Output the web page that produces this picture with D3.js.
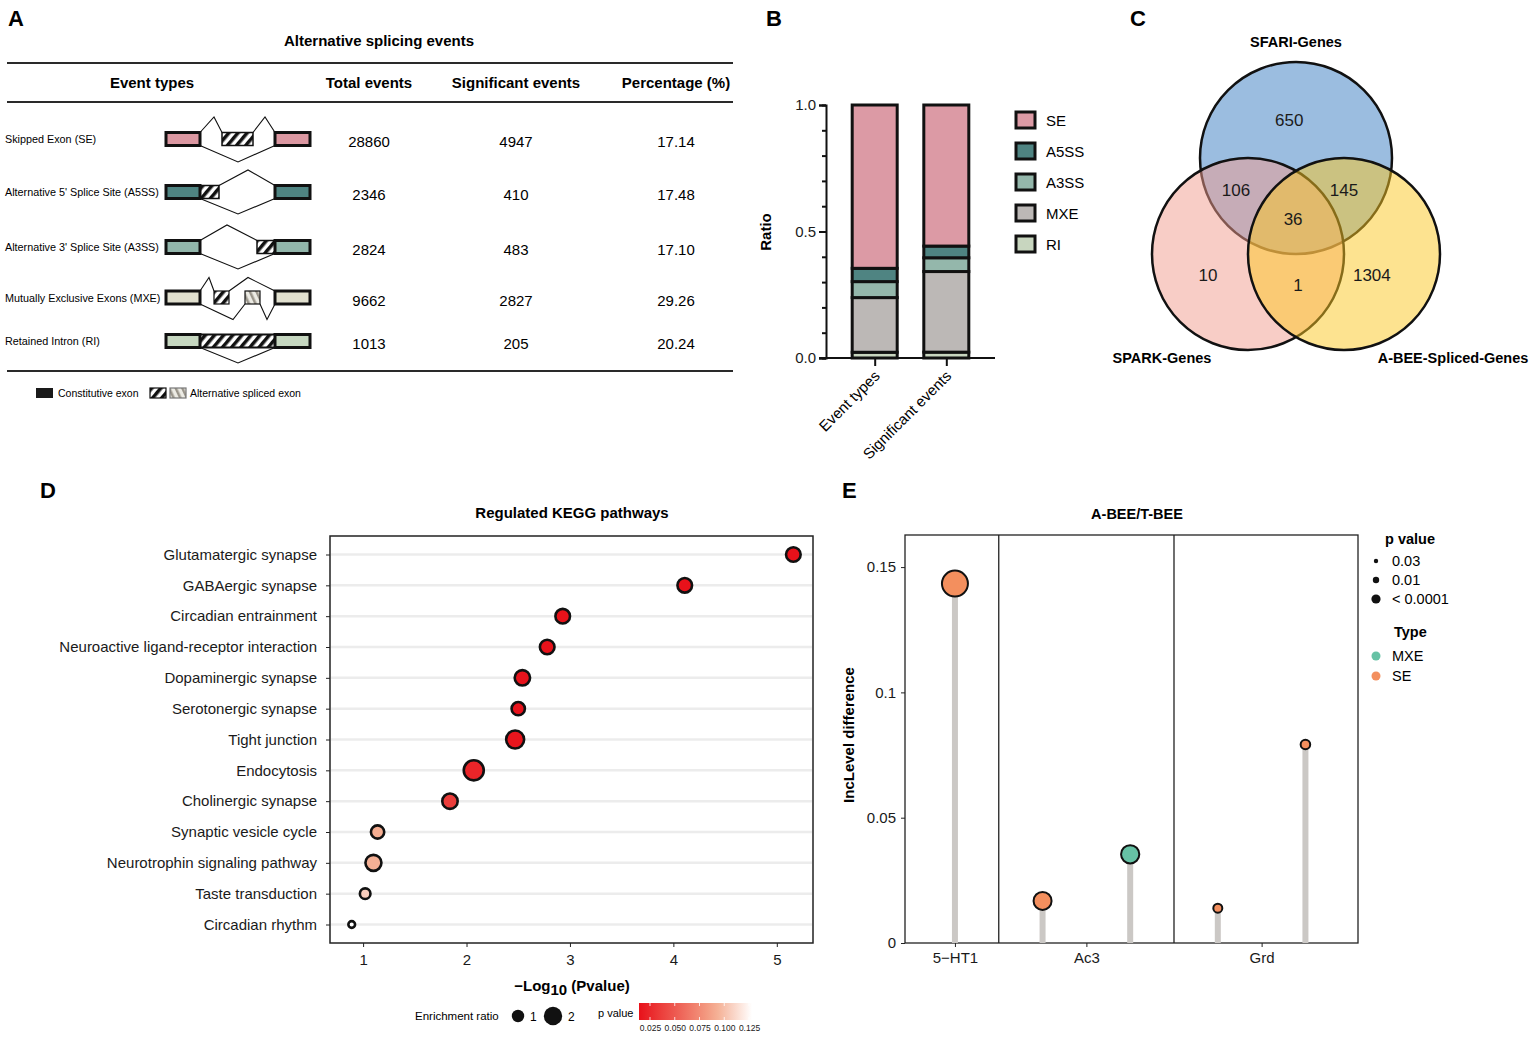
<!DOCTYPE html>
<html>
<head>
<meta charset="utf-8">
<script src="https://cdn.jsdelivr.net/npm/d3@7"></script>
<style>
  body { margin: 0; background: #fff; }
  svg, svg text { font-family: "Liberation Sans", Arial, sans-serif; }
</style>
</head>
<body>
<svg id="fig" width="1535" height="1038"></svg>
<script>
// ---- data ----
const eventTypes = ["SE", "A5SS", "A3SS", "MXE", "RI"];
const eventNames = [
  "Skipped Exon (SE)",
  "Alternative 5' Splice Site (A5SS)",
  "Alternative 3' Splice Site (A3SS)",
  "Mutually Exclusive Exons (MXE)",
  "Retained Intron (RI)"
];
const totalEvents = [28860, 2346, 2824, 9662, 1013];
const sigEvents = [4947, 410, 483, 2827, 205];
const percentages = ["17.14", "17.48", "17.10", "29.26", "20.24"];
const barCategories = ["Event types", "Significant events"];

const vennSets = ["SFARI-Genes", "SPARK-Genes", "A-BEE-Spliced-Genes"];
const vennRegions = ["SFARI", "SFARI+SPARK", "SFARI+ABEE", "all", "SPARK", "SPARK+ABEE", "ABEE"];
const vennCounts = [650, 106, 145, 36, 10, 1, 1304];

const pathways = [
  "Glutamatergic synapse", "GABAergic synapse", "Circadian entrainment",
  "Neuroactive ligand-receptor interaction", "Dopaminergic synapse",
  "Serotonergic synapse", "Tight junction", "Endocytosis",
  "Cholinergic synapse", "Synaptic vesicle cycle",
  "Neurotrophin signaling pathway", "Taste transduction", "Circadian rhythm"
];
const negLog10P = [5.16, 4.11, 2.93, 2.78, 2.54, 2.50, 2.47, 2.07, 1.84, 1.14, 1.10, 1.02, 0.89];
const enrichRatio = [1.77, 1.77, 1.77, 1.77, 1.9, 1.55, 2.33, 2.67, 1.9, 1.55, 2.0, 1.1, 0.45];
const pathwayP = [0.0141, 0.0141, 0.0142, 0.0143, 0.015, 0.015, 0.016, 0.024, 0.036, 0.092, 0.093, 0.106, 0.128];
const colorTicks = [0.025, 0.050, 0.075, 0.100, 0.125];

const geneGroups = ["5−HT1", "Ac3", "Grd"];
const eventGene = ["5−HT1", "Ac3", "Ac3", "Grd", "Grd"];
const incLevelDiff = [0.1434, 0.0168, 0.0354, 0.0139, 0.0792];
const spliceType = ["SE", "SE", "MXE", "SE", "SE"];
const eventP = [0.00005, 0.01, 0.0085, 0.03, 0.028];
const pLegend = [["0.03", 0.03], ["0.01", 0.01], ["< 0.0001", 0.0001]];
const typeLegend = ["MXE", "SE"];

// ---- setup ----
const svg = d3.select("#fig");
const defs = svg.append("defs");
const FONT = '"Liberation Sans", Arial, sans-serif';

function panelLabel(t, x, y) {
  svg.append("text").attr("x", x).attr("y", y)
    .style("font-size", "22px").style("font-weight", "bold").text(t);
}
// d3 axes set their own font attrs; reset them
function styleAxis(g, size) {
  g.attr("font-family", FONT).attr("font-size", null);
  g.selectAll(".tick text").style("font-size", size + "px").attr("fill", "#1a1a1a");
  g.selectAll(".tick line").attr("stroke", "#222");
  return g;
}

// hatch patterns
const hatch = defs.append("pattern").attr("id", "hatch")
  .attr("patternUnits", "userSpaceOnUse").attr("width", 7).attr("height", 7)
  .attr("patternTransform", "rotate(40)");
hatch.append("rect").attr("width", 7).attr("height", 7).attr("fill", "#fff");
hatch.append("rect").attr("width", 3.5).attr("height", 7).attr("fill", "#111");

const hatchGray = defs.append("pattern").attr("id", "hatchGray")
  .attr("patternUnits", "userSpaceOnUse").attr("width", 6).attr("height", 6)
  .attr("patternTransform", "rotate(-25)");
hatchGray.append("rect").attr("width", 6).attr("height", 6).attr("fill", "#ecebe4");
hatchGray.append("rect").attr("width", 2.5).attr("height", 6).attr("fill", "#9a958b");

// ================= Panel A =================
panelLabel("A", 8, 26);
const gA = svg.append("g");
gA.append("text").attr("x", 379).attr("y", 46).attr("text-anchor", "middle")
  .style("font-size", "15px").style("font-weight", "bold").text("Alternative splicing events");

[63, 102, 371].forEach(yy => {
  gA.append("line").attr("x1", 7).attr("x2", 733).attr("y1", yy).attr("y2", yy)
    .attr("stroke", "#2a2a2a").attr("stroke-width", 2);
});

const colX = [152, 369, 516, 676];
const headers = ["Event types", "Total events", "Significant events", "Percentage (%)"];
headers.forEach((h, i) => {
  gA.append("text").attr("x", colX[i]).attr("y", 88).attr("text-anchor", "middle")
    .style("font-size", "15px").style("font-weight", "bold").text(h);
});

const rowYs = [139, 192, 247, 297.5, 341];
const exonColorA = { SE: "#dc98a2", A5SS: "#4f8482", A3SS: "#92b6ab", MXE: "#e1e0cf", RI: "#c6d7c0" };

eventTypes.forEach((t, i) => {
  const cy = rowYs[i];
  gA.append("text").attr("x", 5).attr("y", cy + 4).style("font-size", "10.8px").text(eventNames[i]);
  gA.append("text").attr("x", colX[1]).attr("y", cy + 8).attr("text-anchor", "middle")
    .style("font-size", "15px").text(totalEvents[i]);
  gA.append("text").attr("x", colX[2]).attr("y", cy + 8).attr("text-anchor", "middle")
    .style("font-size", "15px").text(sigEvents[i]);
  gA.append("text").attr("x", colX[3]).attr("y", cy + 8).attr("text-anchor", "middle")
    .style("font-size", "15px").text(percentages[i]);
  drawDiagram(t, cy);
});

function drawDiagram(t, cy) {
  const g = gA.append("g");
  const h = 6.5;
  const line = d3.line();
  const path = pts => g.append("path").attr("d", line(pts)).attr("fill", "none")
    .attr("stroke", "#111").attr("stroke-width", 1.1);
  const exon = (x0, x1, fill, sw) => g.append("rect").attr("x", x0).attr("y", cy - h)
    .attr("width", x1 - x0).attr("height", 2 * h).attr("fill", fill)
    .attr("stroke", "#111").attr("stroke-width", sw || 3);
  const c = exonColorA[t];
  if (t === "SE") {
    path([[200, cy - h], [214, cy - 22], [222, cy - h]]);
    path([[253, cy - h], [265, cy - 22], [275, cy - h]]);
    path([[200, cy + h], [238, cy + 23], [275, cy + h]]);
    exon(222, 253, "url(#hatch)", 1.5);
  } else if (t === "A5SS") {
    path([[219, cy - h], [248, cy - 22], [275, cy - h]]);
    path([[200, cy + h], [238, cy + 22], [275, cy + h]]);
    exon(200, 219, "url(#hatch)", 1.5);
  } else if (t === "A3SS") {
    path([[200, cy - h], [227, cy - 22], [257, cy - h]]);
    path([[200, cy + h], [238, cy + 22], [275, cy + h]]);
    exon(257, 275, "url(#hatch)", 1.5);
  } else if (t === "MXE") {
    path([[200, cy - h], [209, cy - 20], [214, cy - h]]);
    path([[229, cy - h], [248, cy - 20], [275, cy - h]]);
    path([[200, cy + h], [233, cy + 22], [245, cy + h]]);
    path([[260, cy + h], [267, cy + 22], [275, cy + h]]);
    exon(214, 229, "url(#hatch)", 1.2);
    exon(245, 260, "url(#hatchGray)", 1.2);
  } else if (t === "RI") {
    path([[200, cy + h], [238, cy + 22], [275, cy + h]]);
    exon(200, 275, "url(#hatch)", 2);
  }
  exon(166, 200, c);
  exon(275, 310, c);
}

// legend A
gA.append("rect").attr("x", 36).attr("y", 388).attr("width", 17).attr("height", 10).attr("fill", "#1a1a1a");
gA.append("text").attr("x", 58).attr("y", 397).style("font-size", "10.5px").text("Constitutive exon");
gA.append("rect").attr("x", 150).attr("y", 388).attr("width", 16).attr("height", 10)
  .attr("fill", "url(#hatch)").attr("stroke", "#111").attr("stroke-width", 1.2);
gA.append("rect").attr("x", 170).attr("y", 388).attr("width", 16).attr("height", 10)
  .attr("fill", "url(#hatchGray)").attr("stroke", "#777").attr("stroke-width", 1.2);
gA.append("text").attr("x", 190).attr("y", 397).style("font-size", "10.5px").text("Alternative spliced exon");

// ================= Panel B =================
panelLabel("B", 766, 26);
const gB = svg.append("g");
const colorB = { SE: "#dc9aa5", A5SS: "#4f8482", A3SS: "#94b7ab", MXE: "#bcb8b6", RI: "#c8d6bf" };

const barRows = barCategories.map((c, j) => {
  const vals = j === 0 ? totalEvents : sigEvents;
  const o = { cat: c };
  eventTypes.forEach((t, i) => { o[t] = vals[i]; });
  return o;
});
const stackB = d3.stack().keys(eventTypes.slice().reverse()).offset(d3.stackOffsetExpand)(barRows);

const yB = d3.scaleLinear().domain([0, 1]).range([358, 105]);
const xB = d3.scalePoint().domain(barCategories).range([826, 995]).padding(0.68);
const bwB = 45;

stackB.forEach(layer => {
  gB.selectAll(null).data(layer).enter().append("rect")
    .attr("x", d => xB(d.data.cat) - bwB / 2)
    .attr("y", d => yB(d[1]))
    .attr("width", bwB)
    .attr("height", d => yB(d[0]) - yB(d[1]))
    .attr("fill", colorB[layer.key])
    .attr("stroke", "#111").attr("stroke-width", 3);
});

// y axis
const yAxisB = gB.append("g").attr("transform", "translate(826,0)")
  .call(d3.axisLeft(yB).tickValues([0, 0.5, 1]).tickFormat(d3.format(".1f")).tickSize(7).tickPadding(3));
styleAxis(yAxisB, 15);
gB.append("g").attr("transform", "translate(826,0)")
  .call(d3.axisLeft(yB).tickValues(d3.range(0, 1.001, 0.1)).tickFormat("").tickSize(4))
  .call(g => g.select(".domain").remove())
  .selectAll(".tick line").attr("stroke", "#111").attr("stroke-width", 2);
yAxisB.select(".domain").attr("stroke", "#111").attr("stroke-width", 2);
yAxisB.selectAll(".tick line").attr("stroke", "#111").attr("stroke-width", 2);

// x axis
const xAxisB = gB.append("g").attr("transform", "translate(0,358)")
  .call(d3.axisBottom(xB).tickSize(8).tickFormat(""));
xAxisB.select(".domain").attr("d", "M819,0H995").attr("stroke", "#111").attr("stroke-width", 2);
xAxisB.selectAll(".tick line").attr("stroke", "#111").attr("stroke-width", 2);
barCategories.forEach(c => {
  gB.append("text")
    .attr("transform", `translate(${xB(c) + 6},${377}) rotate(-45)`)
    .attr("text-anchor", "end").style("font-size", "15px").text(c);
});
gB.append("text").attr("transform", "translate(771,232) rotate(-90)")
  .attr("text-anchor", "middle").style("font-size", "15px").style("font-weight", "bold").text("Ratio");

// legend B
const legB = d3.scalePoint().domain(eventTypes).range([120, 244]);
eventTypes.forEach(t => {
  gB.append("rect").attr("x", 1016).attr("y", legB(t) - 8).attr("width", 19).attr("height", 16)
    .attr("fill", colorB[t]).attr("stroke", "#111").attr("stroke-width", 3);
  gB.append("text").attr("x", 1046).attr("y", legB(t) + 5.5).style("font-size", "15px").text(t);
});

// ================= Panel C =================
panelLabel("C", 1130, 26);
const gC = svg.append("g");
const vUnit = 96;
const vx = d3.scaleLinear().domain([0, 1]).range([1296, 1296 + vUnit]);
const vy = d3.scaleLinear().domain([0, 1]).range([254, 254 + vUnit]);
const vennCenters = [[0, -1], [-0.5, 0], [0.5, 0]];
const vennFill = ["#377bc1", "#f19b8d", "#fbc721"];
vennSets.forEach((s, i) => {
  gC.append("circle").attr("cx", vx(vennCenters[i][0])).attr("cy", vy(vennCenters[i][1]))
    .attr("r", vUnit).attr("fill", vennFill[i]).attr("fill-opacity", 0.5)
    .attr("stroke", "#111").attr("stroke-width", 2.5);
});
const vennLabelPos = [[-0.07, -1.40], [-0.625, -0.667], [0.5, -0.667], [-0.03, -0.365], [-0.917, 0.22], [0.02, 0.32], [0.79, 0.22]];
vennRegions.forEach((r, i) => {
  gC.append("text").attr("x", vx(vennLabelPos[i][0])).attr("y", vy(vennLabelPos[i][1]) + 6)
    .attr("text-anchor", "middle").style("font-size", "17px").attr("fill", "#1a1a1a").text(vennCounts[i]);
});
const vennSetLabelPos = [[1296, 47], [1162, 363], [1453, 363]];
vennSets.forEach((s, i) => {
  gC.append("text").attr("x", vennSetLabelPos[i][0]).attr("y", vennSetLabelPos[i][1])
    .attr("text-anchor", "middle").style("font-size", "14.5px").style("font-weight", "bold").text(s);
});

// ================= Panel D =================
panelLabel("D", 40, 498);
const gD = svg.append("g");
const xD = d3.scaleLinear().domain([0.68, 5.35]).range([330, 813]);
const yD = d3.scalePoint().domain(pathways).range([536, 943]).padding(0.6);
const rD = d3.scaleLinear().domain([1, 2]).range([5, 8]);
const pDomain = [0.0139, 0.128];
const cD = d3.scaleLinear().domain([pDomain[0], 0.09, pDomain[1]])
  .range(["#e8111a", "#f4a98c", "#ffffff"]).clamp(true);

gD.append("text").attr("x", 572).attr("y", 518).attr("text-anchor", "middle")
  .style("font-size", "15px").style("font-weight", "bold").text("Regulated KEGG pathways");

gD.selectAll(".grid").data(pathways).enter().append("line")
  .attr("x1", 331).attr("x2", 812).attr("y1", d => yD(d)).attr("y2", d => yD(d))
  .attr("stroke", "#ececec").attr("stroke-width", 2.5);

gD.append("rect").attr("x", 330).attr("y", 536).attr("width", 483).attr("height", 407)
  .attr("fill", "none").attr("stroke", "#222").attr("stroke-width", 1.5);

const yAxisD = gD.append("g").attr("transform", "translate(330,0)")
  .call(d3.axisLeft(yD).tickSize(4).tickPadding(9));
yAxisD.select(".domain").remove();
styleAxis(yAxisD, 15);

const xAxisD = gD.append("g").attr("transform", "translate(0,943)")
  .call(d3.axisBottom(xD).tickValues([1, 2, 3, 4, 5]).tickFormat(d3.format("d")).tickSize(4).tickPadding(7));
xAxisD.select(".domain").remove();
styleAxis(xAxisD, 15);

const xt = gD.append("text").attr("x", 572).attr("y", 991).attr("text-anchor", "middle")
  .style("font-size", "15px").style("font-weight", "bold");
xt.append("tspan").text("−Log");
xt.append("tspan").attr("dy", 4).text("10");
xt.append("tspan").attr("dy", -4).text(" (Pvalue)");

gD.selectAll(".dot").data(pathways).enter().append("circle")
  .attr("cx", (d, i) => xD(negLog10P[i]))
  .attr("cy", d => yD(d))
  .attr("r", (d, i) => rD(enrichRatio[i]))
  .attr("fill", (d, i) => cD(pathwayP[i]))
  .attr("stroke", "#111").attr("stroke-width", 2.6);

// legend D
gD.append("text").attr("x", 415).attr("y", 1020).style("font-size", "11.5px").text("Enrichment ratio");
const sizeLeg = d3.scalePoint().domain([1, 2]).range([518, 553]);
[1, 2].forEach(v => {
  gD.append("circle").attr("cx", sizeLeg(v)).attr("cy", 1016).attr("r", rD(v) + 1.2).attr("fill", "#111");
  gD.append("text").attr("x", sizeLeg(v) + rD(v) + 7).attr("y", 1021).style("font-size", "12px").text(v);
});
gD.append("text").attr("x", 598).attr("y", 1017).style("font-size", "11px").text("p value");
const grad = defs.append("linearGradient").attr("id", "pgrad");
d3.range(0, 1.001, 0.1).forEach(t => {
  grad.append("stop").attr("offset", t).attr("stop-color", cD(d3.interpolateNumber(pDomain[0], pDomain[1])(t)));
});
const cbX = d3.scaleLinear().domain(pDomain).range([639, 752]);
gD.append("rect").attr("x", 639).attr("y", 1003).attr("width", 113).attr("height", 17).attr("fill", "url(#pgrad)");
const cbAxis = gD.append("g").attr("transform", "translate(0,1020)")
  .call(d3.axisBottom(cbX).tickValues(colorTicks).tickFormat(d3.format(".3f")).tickSize(0).tickPadding(5));
cbAxis.select(".domain").remove();
styleAxis(cbAxis, 8.5);
colorTicks.forEach(v => {
  gD.append("line").attr("x1", cbX(v)).attr("x2", cbX(v)).attr("y1", 1003).attr("y2", 1006)
    .attr("stroke", "#fff").attr("stroke-width", 0.8);
  gD.append("line").attr("x1", cbX(v)).attr("x2", cbX(v)).attr("y1", 1017).attr("y2", 1020)
    .attr("stroke", "#fff").attr("stroke-width", 0.8);
});

// ================= Panel E =================
panelLabel("E", 842, 498);
const gE = svg.append("g");
const xE = d3.scaleLinear().domain([-0.57, 4.6]).range([905, 1358]);
const yE = d3.scaleLinear().domain([0, 0.1628]).range([943, 535]);
const rE = d3.scaleLinear().domain([-Math.log10(0.03), 2, 4.3]).range([4.5, 9, 13]).clamp(true);
const rELeg = d3.scaleLinear().domain([-Math.log10(0.03), 2, 4]).range([2.2, 3.2, 4.6]).clamp(true);
const typeColor = { MXE: "#66c2a5", SE: "#f38f5e" };

gE.append("text").attr("x", 1137).attr("y", 519).attr("text-anchor", "middle")
  .style("font-size", "14.5px").style("font-weight", "bold").text("A-BEE/T-BEE");

gE.append("rect").attr("x", 905).attr("y", 535).attr("width", 453).attr("height", 408)
  .attr("fill", "none").attr("stroke", "#222").attr("stroke-width", 1.3);
[0.5, 2.5].forEach(v => {
  gE.append("line").attr("x1", xE(v)).attr("x2", xE(v)).attr("y1", 535).attr("y2", 943)
    .attr("stroke", "#222").attr("stroke-width", 1.3);
});

const yAxisE = gE.append("g").attr("transform", "translate(905,0)")
  .call(d3.axisLeft(yE).tickValues([0, 0.05, 0.1, 0.15]).tickFormat(d => d === 0 ? "0" : String(d)).tickSize(4).tickPadding(5));
yAxisE.select(".domain").remove();
styleAxis(yAxisE, 15);

// group tick positions = mean index of each gene's events
const groupPos = geneGroups.map(g => d3.mean(eventGene.map((e, i) => e === g ? i : null).filter(v => v !== null)));
const xAxisE = gE.append("g").attr("transform", "translate(0,943)")
  .call(d3.axisBottom(xE).tickValues(groupPos).tickFormat((d, i) => geneGroups[i]).tickSize(4).tickPadding(5));
xAxisE.select(".domain").remove();
styleAxis(xAxisE, 15);

gE.append("text").attr("transform", "translate(854,735) rotate(-90)")
  .attr("text-anchor", "middle").style("font-size", "15px").style("font-weight", "bold").text("IncLevel difference");

gE.selectAll(".stem").data(incLevelDiff).enter().append("line")
  .attr("x1", (d, i) => xE(i)).attr("x2", (d, i) => xE(i))
  .attr("y1", yE(0)).attr("y2", d => yE(d))
  .attr("stroke", "#cbc8c5").attr("stroke-width", 6);
gE.selectAll(".pt").data(incLevelDiff).enter().append("circle")
  .attr("cx", (d, i) => xE(i)).attr("cy", d => yE(d))
  .attr("r", (d, i) => rE(-Math.log10(eventP[i])))
  .attr("fill", (d, i) => typeColor[spliceType[i]])
  .attr("stroke", "#111").attr("stroke-width", 2);

// legend E
gE.append("text").attr("x", 1385).attr("y", 544).style("font-size", "14.5px").style("font-weight", "bold").text("p value");
pLegend.forEach((p, i) => {
  const yy = 561 + i * 19;
  gE.append("circle").attr("cx", 1376).attr("cy", yy).attr("r", rELeg(-Math.log10(p[1]))).attr("fill", "#111");
  gE.append("text").attr("x", 1392).attr("y", yy + 5).style("font-size", "14.5px").text(p[0]);
});
gE.append("text").attr("x", 1394).attr("y", 637).style("font-size", "14.5px").style("font-weight", "bold").text("Type");
typeLegend.forEach((t, i) => {
  const yy = 656 + i * 20;
  gE.append("circle").attr("cx", 1376).attr("cy", yy).attr("r", 4.5).attr("fill", typeColor[t]);
  gE.append("text").attr("x", 1392).attr("y", yy + 5).style("font-size", "14.5px").text(t);
});
</script>
</body>
</html>
